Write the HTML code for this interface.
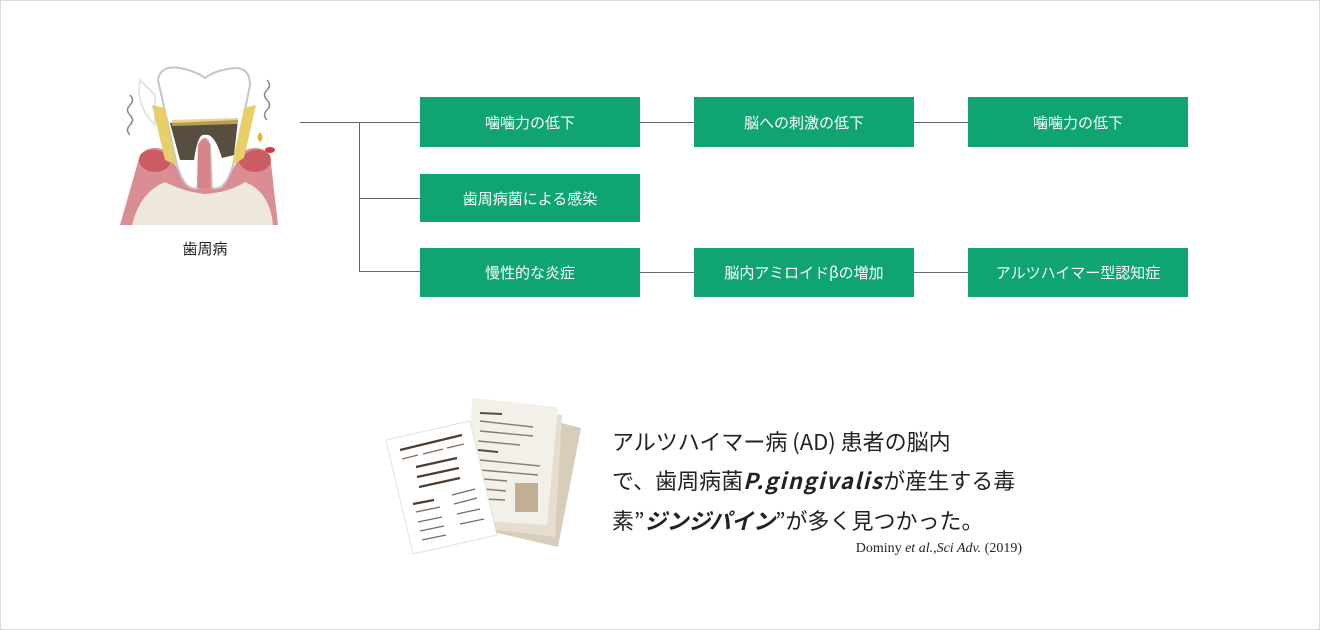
<!DOCTYPE html>
<html><head><meta charset="utf-8"><style>
*{margin:0;padding:0;box-sizing:border-box}
body{width:1320px;height:630px;background:#fff;position:relative;overflow:hidden;font-family:"Liberation Sans","Noto Sans CJK JP",sans-serif}
.frame{position:absolute;left:0;top:0;width:1320px;height:630px;border:1px solid #dcdcdc}
.b{position:absolute;width:220px;height:50px;background:#10a475;color:#fff;font-size:15px;display:flex;align-items:center;justify-content:center;font-family:"Noto Sans CJK JP",sans-serif}
.l{position:absolute;background:#666}
.p{position:absolute;left:612px;font-size:22px;color:#222;white-space:nowrap;font-family:"Noto Sans CJK JP",sans-serif;line-height:1.2}
</style></head><body>
<div class="frame"></div>
<svg style="position:absolute;left:110px;top:60px" width="190" height="170" viewBox="0 0 190 170">
<path d="M10 165 L30 95 Q45 82 62 100 L80 128 L112 128 L128 100 Q145 82 160 95 L168 165 Z" fill="#da8d92"/>
<ellipse cx="45" cy="100" rx="16" ry="12" fill="#c23c44" opacity=".6"/>
<ellipse cx="145" cy="100" rx="16" ry="12" fill="#c23c44" opacity=".6"/>
<path d="M22 165 Q30 132 55 122 Q75 132 95 134 Q120 132 135 122 Q160 132 163 165 Z" fill="#ede8db"/>
<path d="M30 20 Q25 45 45 65 L45 35 Z" fill="none" stroke="#e4e4e4" stroke-width="2"/>
<path d="M48 20 Q50 5 70 8 Q88 12 95 18 Q105 10 125 8 Q140 8 140 25 L133 60 L123 105 Q115 132 102 128 L100 85 Q95 72 90 85 L88 128 Q75 132 67 105 L57 60 Z" fill="#fff" stroke="#c6c6c6" stroke-width="2"/>
<path d="M42 45 L55 48 L66 105 L55 100 Z" fill="#e8cf6a"/>
<path d="M146 45 L134 48 L122 105 L134 98 Z" fill="#e8cf6a"/>
<path d="M60 63 L128 60 L124 95 L112 98 Q104 72 95 75 Q88 72 84 100 L70 100 Z" fill="#3b2f1f" opacity=".85"/>
<path d="M62 60 L128 58 L128 64 L62 66 Z" fill="#e0c060" opacity=".7"/>
<path d="M87 128 L88 85 Q94 72 100 85 L101 128 Z" fill="#d6868b"/>
<path d="M20 35 q5 5 0 10 q-5 5 0 10 q5 5 0 10 q-5 5 0 10" fill="none" stroke="#888" stroke-width="1.5"/>
<path d="M157 20 q5 5 0 10 q-5 5 0 10 q5 5 0 10 q-5 5 0 10" fill="none" stroke="#888" stroke-width="1.5"/>
<path d="M150 72 q-5 6 0 10 q5 -4 0 -10z" fill="#e2b734"/>
<ellipse cx="160" cy="90" rx="5" ry="3" fill="#d23a3a"/>
</svg>
<div style="position:absolute;left:170px;top:238px;font-size:15px;color:#222;width:70px;text-align:center;font-family:'Noto Sans CJK JP',sans-serif">歯周病</div>

<div class="l" style="left:300px;top:122px;width:120px;height:1px"></div>
<div class="l" style="left:359px;top:122px;width:1px;height:150px"></div>
<div class="l" style="left:359px;top:198px;width:61px;height:1px"></div>
<div class="l" style="left:359px;top:271px;width:61px;height:1px"></div>
<div class="l" style="left:640px;top:122px;width:54px;height:1px"></div>
<div class="l" style="left:914px;top:122px;width:54px;height:1px"></div>
<div class="l" style="left:640px;top:272px;width:54px;height:1px"></div>
<div class="l" style="left:914px;top:272px;width:54px;height:1px"></div>

<div class="b" style="left:420px;top:97px">噛噛力の低下</div>
<div class="b" style="left:694px;top:97px">脳への刺激の低下</div>
<div class="b" style="left:968px;top:97px">噛噛力の低下</div>
<div class="b" style="left:420px;top:174px;height:48px">歯周病菌による感染</div>
<div class="b" style="left:420px;top:248px;height:49px">慢性的な炎症</div>
<div class="b" style="left:694px;top:248px;height:49px">脳内アミロイドβの増加</div>
<div class="b" style="left:968px;top:248px;height:49px">アルツハイマー型認知症</div>

<svg style="position:absolute;left:380px;top:390px" width="210" height="180" viewBox="0 0 210 180">
<polygon points="150,25 201,38 178,157 105,140" fill="#d8ccba"/>
<polygon points="120,15 182,25 175,147 100,138" fill="#e6ddd0"/>
<polygon points="92,8 178,17 167,135 88,130" fill="#f3efe9"/>
<g stroke="#5a4a3c" stroke-width="2"><line x1="100" y1="23" x2="122" y2="24"/><line x1="98" y1="60" x2="118" y2="62"/></g>
<g stroke="#8a7c70" stroke-width="1.4"><line x1="100" y1="31" x2="153" y2="37"/><line x1="100" y1="41" x2="153" y2="46"/><line x1="98" y1="51" x2="140" y2="55"/><line x1="100" y1="70" x2="160" y2="76"/><line x1="100" y1="80" x2="158" y2="85"/><line x1="104" y1="89" x2="127" y2="91"/><line x1="104" y1="99" x2="126" y2="101"/><line x1="104" y1="109" x2="125" y2="110"/></g>
<rect x="135" y="93" width="23" height="29" fill="#c2ae94"/>
<polygon points="6,50 90,31 117,145 33,164" fill="#fff" stroke="#e2e2e2"/>
<g stroke="#4e3e30" stroke-width="2.2"><line x1="20" y1="60" x2="82" y2="45"/><line x1="36" y1="77" x2="77" y2="68"/><line x1="37" y1="87" x2="79" y2="78"/><line x1="39" y1="97" x2="80" y2="88"/><line x1="33" y1="114" x2="54" y2="110"/></g>
<g stroke="#7a6c60" stroke-width="1.4"><line x1="22" y1="69" x2="38" y2="65"/><line x1="43" y1="64" x2="63" y2="59"/><line x1="67" y1="58" x2="84" y2="54"/><line x1="72" y1="105" x2="95" y2="99"/><line x1="36" y1="122" x2="60" y2="117"/><line x1="74" y1="114" x2="97" y2="108"/><line x1="38" y1="132" x2="62" y2="127"/><line x1="77" y1="124" x2="100" y2="119"/><line x1="40" y1="141" x2="64" y2="136"/><line x1="80" y1="134" x2="104" y2="129"/><line x1="42" y1="150" x2="66" y2="145"/></g>
</svg>

<div class="p" style="top:428px">アルツハイマー病 (AD) 患者の脳内</div>
<div class="p" style="top:467px">で、歯周病菌<b><i style="letter-spacing:1.5px">P.gingivalis</i></b>が産生する毒</div>
<div class="p" style="top:507px">素”<b><i>ジンジパイン</i></b>”が多く見つかった。</div>
<div style="position:absolute;left:830px;top:541px;width:192px;text-align:right;font-family:'Liberation Serif',serif;font-size:14px;color:#222">Dominy <i>et al.,Sci Adv.</i> (2019)</div>
</body></html>
